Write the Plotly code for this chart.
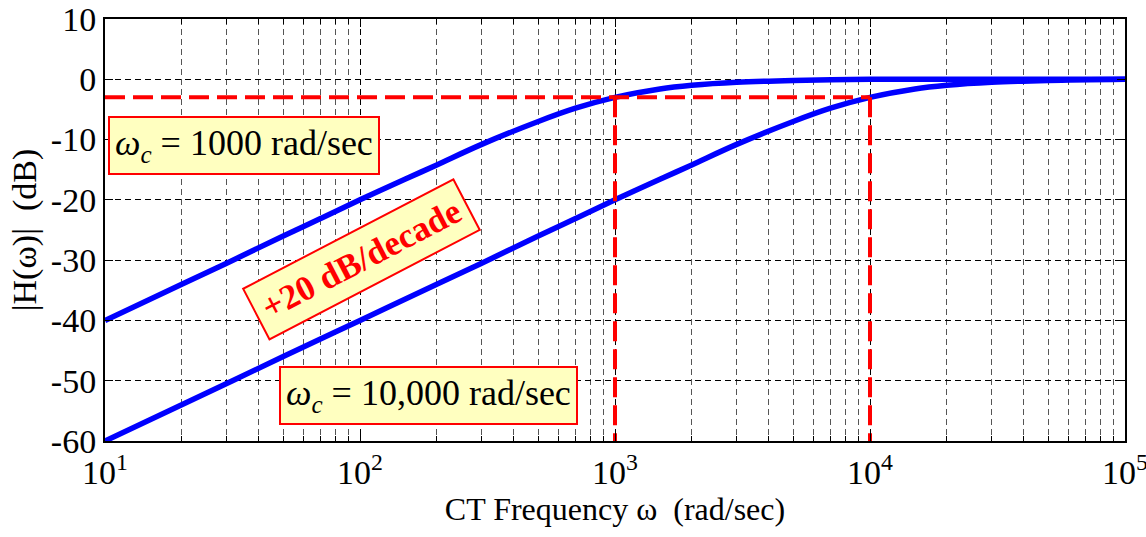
import plotly.graph_objects as go
import math

# Frequency samples (rad/sec) and magnitudes (dB)
w1 = [10, 20, 30, 50, 70, 100, 150, 200, 300, 500, 700, 1000, 1500, 2000, 3000, 5000, 10000, 100000]
h1 = [-40, -34, -30.5, -26, -23.1, -20, -16.6, -14.2, -10.8, -7.0, -4.8, -3.0, -1.6, -1.0, -0.5, -0.2, 0, 0]

w2 = [10, 20, 50, 100, 200, 300, 500, 700, 1000, 1500, 2000, 3000, 5000, 7000, 10000, 15000, 20000, 30000, 50000, 100000]
h2 = [-60, -54, -46, -40, -34, -30.5, -26, -23.1, -20, -16.6, -14.2, -10.8, -7.0, -4.8, -3.0, -1.6, -1.0, -0.5, -0.2, 0]

cutoff_db = -3
cutoffs = [1000, 10000]

xtick_vals = [10, 100, 1000, 10000, 100000]
xtick_text = ["10<sup>1</sup>", "10<sup>2</sup>", "10<sup>3</sup>", "10<sup>4</sup>", "10<sup>5</sup>"]
ytick_vals = [10, 0, -10, -20, -30, -40, -50, -60]
ytick_text = ["10", "0", "-10", "-20", "-30", "-40", "-50", "-60"]

FONT = "Liberation Serif"
BLUE = "#0000FF"
RED = "#FF0000"
BOXFILL = "#FFFFC0"

fig = go.Figure()
fig.add_trace(go.Scatter(x=w1, y=h1, mode="lines", line=dict(color=BLUE, width=5.5, shape="spline"), showlegend=False))
fig.add_trace(go.Scatter(x=w2, y=h2, mode="lines", line=dict(color=BLUE, width=5.5, shape="spline"), showlegend=False))

# -3 dB reference lines
fig.add_trace(go.Scatter(x=[xtick_vals[0], cutoffs[1]], y=[cutoff_db, cutoff_db], mode="lines",
                         line=dict(color=RED, width=4, dash="20px,8px"), showlegend=False))
for wc in cutoffs:
    fig.add_trace(go.Scatter(x=[wc, wc], y=[cutoff_db, ytick_vals[-1]], mode="lines",
                             line=dict(color=RED, width=4, dash="20px,8px"), showlegend=False))

minor_vals = [m * 10 ** k for k in range(1, 5) for m in range(2, 10)]

fig.update_xaxes(type="log", range=[1, 5], tickvals=xtick_vals, ticktext=xtick_text,
                 showgrid=True, gridcolor="black", griddash="6px,4px", gridwidth=1,
                 ticks="inside", ticklen=8, tickcolor="black", mirror="allticks",
                 showline=True, linecolor="black", linewidth=2,
                 minor=dict(tickvals=minor_vals, showgrid=True, gridcolor="#555555", griddash="6px,4px",
                            gridwidth=1, ticks="inside", ticklen=5, tickcolor="black"),
                 tickfont=dict(family=FONT, size=34, color="black"), ticklabeloverflow="allow",
                 title=dict(text="CT Frequency \u03c9  (rad/sec)", font=dict(family=FONT, size=32, color="black"), standoff=2),
                 zeroline=False, automargin=False)
fig.update_yaxes(range=[-60, 10], tickvals=ytick_vals, ticktext=ytick_text,
                 showgrid=True, gridcolor="black", griddash="6px,4px", gridwidth=1,
                 ticks="inside", ticklen=8, tickcolor="black", mirror="allticks",
                 showline=True, linecolor="black", linewidth=2,
                 tickfont=dict(family=FONT, size=34, color="black"), ticklabeloverflow="allow",
                 title=dict(text="|H(\u03c9)|  (dB)", font=dict(family=FONT, size=34, color="black"), standoff=4),
                 zeroline=False, automargin=False)

fig.add_annotation(x=math.log10(35), y=-11, xref="x", yref="y",
                   text="<i>\u03c9</i><sub><i>c</i></sub> = 1000 rad/sec",
                   showarrow=False, font=dict(family=FONT, size=36, color="black"),
                   bgcolor=BOXFILL, bordercolor=RED, borderwidth=2, borderpad=5)
fig.add_annotation(x=math.log10(186), y=-52.5, xref="x", yref="y",
                   text="<i>\u03c9</i><sub><i>c</i></sub> = 10,000 rad/sec",
                   showarrow=False, font=dict(family=FONT, size=36, color="black"),
                   bgcolor=BOXFILL, bordercolor=RED, borderwidth=2, borderpad=5)
fig.add_annotation(x=math.log10(101), y=-29.9, xref="x", yref="y",
                   text="<b>+20 dB/decade</b>", textangle=-27.5,
                   showarrow=False, font=dict(family=FONT, size=35, color=RED),
                   bgcolor=BOXFILL, bordercolor=RED, borderwidth=2, borderpad=8)

fig.update_layout(width=1146, height=537, margin=dict(l=105, r=21, t=19, b=96),
                  plot_bgcolor="white", paper_bgcolor="white",
                  font=dict(family=FONT, color="black"))

fig.write_html("out.html")
